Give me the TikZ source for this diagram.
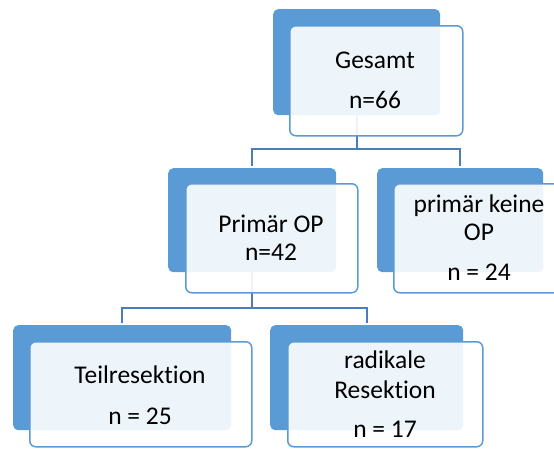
\documentclass[tikz,border=0pt]{standalone}
\usepackage{fontspec}
\setmainfont{Carlito}[Ligatures=NoCommon]
\definecolor{accent}{HTML}{5B9BD5}
\definecolor{connc}{HTML}{4A7EBB}
\tikzset{
  bluebox/.style={fill=accent, draw=none, rounded corners=5pt, inner sep=0pt, anchor=north west},
  whitebox/.style={fill=white, fill opacity=0.9, draw=accent, line width=1.5pt, rounded corners=6pt, inner sep=0pt, anchor=north west},
  conn/.style={draw=connc, line width=2pt},
  lbl/.style={anchor=base, inner sep=0pt, font=\fontsize{25.5}{30}\selectfont}
}
\begin{document}
\begin{tikzpicture}[x=1pt,y=-1pt]
\useasboundingbox (0,0) rectangle (554,448);
\clip (0,0) rectangle (554,448);
% back rectangles
\node[bluebox, minimum width=167pt, minimum height=106pt] (b1) at (273,9) {};
\node[bluebox, minimum width=168pt, minimum height=104pt] (b2) at (168,168) {};
\node[bluebox, minimum width=166pt, minimum height=104pt] (b3) at (377,168) {};
\node[bluebox, minimum width=218pt, minimum height=105pt] (b4) at (13,325) {};
\node[bluebox, minimum width=193pt, minimum height=105pt] (b5) at (270,325) {};
% connectors
\draw[conn] (b1.south) -- ++(0,34) coordinate (j1);
\draw[conn] ([yshift=2pt]b2.north) |- (j1) -| ([yshift=2pt]b3.north);
\draw[conn] (b2.south) -- ++(0,36) coordinate (j2);
\draw[conn] ([yshift=2pt]b4.north) |- (j2) -| ([yshift=2pt]b5.north);
% front boxes
\node[whitebox, minimum width=173pt, minimum height=110pt] (w1) at (289,25) {};
\node[whitebox, minimum width=172pt, minimum height=109pt] (w2) at (185,183) {};
\node[whitebox, minimum width=185pt, minimum height=109pt] (w3) at (393,183) {};
\node[whitebox, minimum width=222pt, minimum height=105pt] (w4) at (29,341) {};
\node[whitebox, minimum width=195pt, minimum height=105pt] (w5) at (287,341) {};
% labels
\node[lbl] (t1a) at (375,68) {Gesamt};
\node[lbl] (t1b) at (375,108) {n=66};
\node[lbl] (t2a) at (271,232) {Primär OP};
\node[lbl] (t2b) at (271,260) {n=42};
\node[lbl] (t3a) at (479,212) {primär keine};
\node[lbl] (t3b) at (479,240) {OP};
\node[lbl] (t3c) at (479,280) {n = 24};
\node[lbl] (t4a) at (140,383) {Teilresektion};
\node[lbl] (t4b) at (140,424) {n = 25};
\node[lbl] (t5a) at (385,368) {radikale};
\node[lbl] (t5b) at (385,398) {Resektion};
\node[lbl] (t5c) at (385,437) {n = 17};
\end{tikzpicture}
\end{document}
